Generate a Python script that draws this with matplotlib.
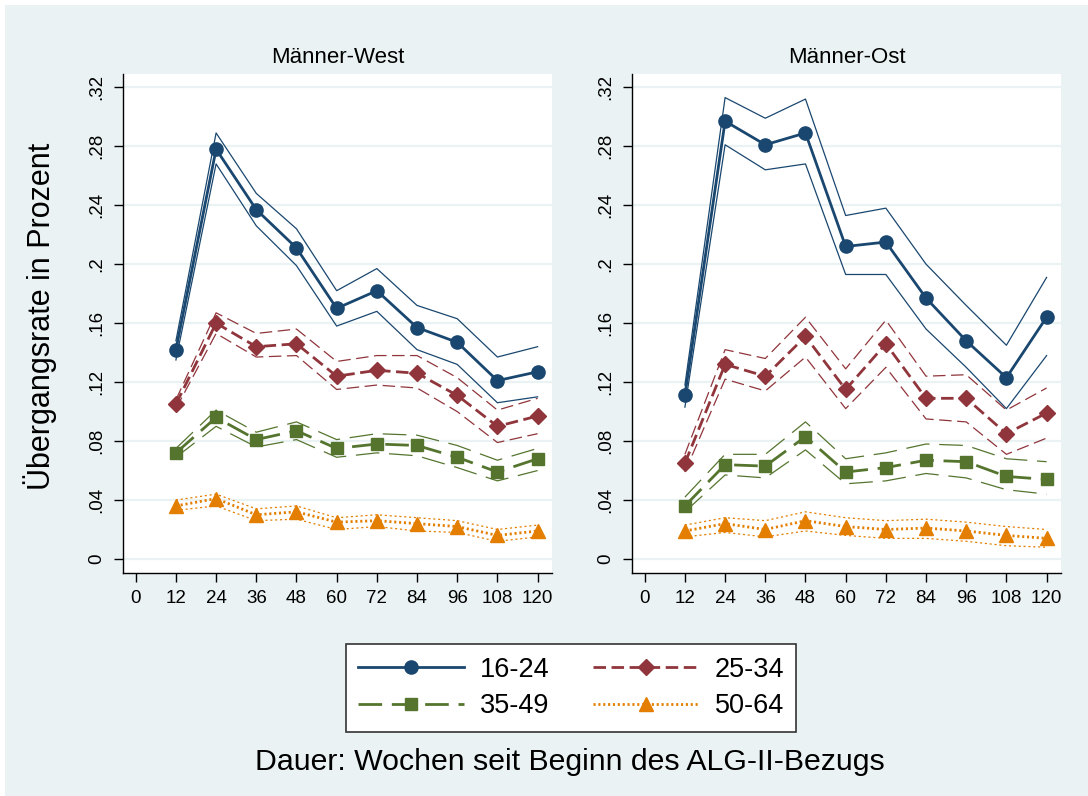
import matplotlib
matplotlib.use("Agg")
import matplotlib.pyplot as plt
from matplotlib.patches import Rectangle

plt.rcParams['font.family'] = ['Liberation Sans', 'DejaVu Sans']
plt.rcParams['lines.scale_dashes'] = False

# Wochen seit Beginn des ALG-II-Bezugs
wochen = [12, 24, 36, 48, 60, 72, 84, 96, 108, 120]
gruppen = ['16-24', '25-34', '35-49', '50-64']

# Männer-West: Schaetzer, obere und untere Grenze
west_16 = [0.142, 0.278, 0.237, 0.211, 0.170, 0.182, 0.157, 0.147, 0.121, 0.127]
west_16_hi = [0.148, 0.289, 0.248, 0.224, 0.182, 0.197, 0.172, 0.163, 0.137, 0.144]
west_16_lo = [0.135, 0.268, 0.226, 0.199, 0.158, 0.168, 0.142, 0.132, 0.106, 0.110]

west_25 = [0.105, 0.160, 0.144, 0.146, 0.124, 0.128, 0.126, 0.111, 0.090, 0.097]
west_25_hi = [0.108, 0.167, 0.153, 0.156, 0.134, 0.138, 0.138, 0.123, 0.101, 0.109]
west_25_lo = [0.102, 0.153, 0.137, 0.138, 0.115, 0.118, 0.116, 0.100, 0.079, 0.085]

west_35 = [0.072, 0.096, 0.081, 0.087, 0.075, 0.078, 0.077, 0.069, 0.059, 0.068]
west_35_hi = [0.075, 0.101, 0.086, 0.093, 0.081, 0.085, 0.084, 0.077, 0.067, 0.075]
west_35_lo = [0.069, 0.090, 0.076, 0.081, 0.069, 0.072, 0.070, 0.062, 0.053, 0.060]

west_50 = [0.036, 0.041, 0.030, 0.032, 0.025, 0.026, 0.024, 0.022, 0.016, 0.019]
west_50_hi = [0.040, 0.044, 0.034, 0.036, 0.028, 0.030, 0.028, 0.026, 0.020, 0.023]
west_50_lo = [0.033, 0.036, 0.026, 0.027, 0.020, 0.022, 0.019, 0.018, 0.012, 0.015]

# Männer-Ost
ost_16 = [0.111, 0.297, 0.281, 0.289, 0.212, 0.215, 0.177, 0.148, 0.123, 0.164]
ost_16_hi = [0.118, 0.313, 0.299, 0.312, 0.233, 0.238, 0.200, 0.172, 0.145, 0.191]
ost_16_lo = [0.103, 0.281, 0.264, 0.268, 0.193, 0.193, 0.156, 0.130, 0.102, 0.138]

ost_25 = [0.065, 0.132, 0.124, 0.151, 0.115, 0.146, 0.109, 0.109, 0.085, 0.099]
ost_25_hi = [0.071, 0.142, 0.136, 0.164, 0.129, 0.162, 0.124, 0.125, 0.101, 0.116]
ost_25_lo = [0.059, 0.122, 0.114, 0.137, 0.102, 0.130, 0.095, 0.093, 0.071, 0.082]

ost_35 = [0.036, 0.064, 0.063, 0.083, 0.059, 0.062, 0.067, 0.066, 0.056, 0.054]
ost_35_hi = [0.042, 0.071, 0.071, 0.093, 0.068, 0.072, 0.078, 0.077, 0.068, 0.066]
ost_35_lo = [0.032, 0.057, 0.055, 0.074, 0.051, 0.053, 0.058, 0.055, 0.047, 0.044]

ost_50 = [0.019, 0.024, 0.020, 0.026, 0.022, 0.020, 0.021, 0.019, 0.016, 0.014]
ost_50_hi = [0.023, 0.028, 0.026, 0.032, 0.028, 0.026, 0.027, 0.025, 0.022, 0.020]
ost_50_lo = [0.015, 0.018, 0.015, 0.019, 0.016, 0.014, 0.014, 0.012, 0.009, 0.008]

yticks = [0, 0.04, 0.08, 0.12, 0.16, 0.2, 0.24, 0.28, 0.32]
ytick_labels = ['0', '.04', '.08', '.12', '.16', '.2', '.24', '.28', '.32']
xticks = [0, 12, 24, 36, 48, 60, 72, 84, 96, 108, 120]

farben = ['#1a476f', '#90353b', '#55752f', '#e37e00']
marker = ['o', 'D', 's', '^']
msize = [9.5, 8, 8, 9.5]
striche = ['-', (0, (9, 4)), (0, (17, 7)), (0, (1.5, 2))]

bg = '#eaf2f3'

fig = plt.figure(figsize=(10.88, 7.96), dpi=100)
fig.patch.set_facecolor('white')
fig.patches.append(Rectangle((5 / 1088, 0), 1, 1 - 5 / 796, transform=fig.transFigure,
                             facecolor=bg, edgecolor='none', zorder=-10))

panels = [
    ('Männer-West', 123,
     [west_16, west_25, west_35, west_50],
     [west_16_hi, west_25_hi, west_35_hi, west_50_hi],
     [west_16_lo, west_25_lo, west_35_lo, west_50_lo]),
    ('Männer-Ost', 632,
     [ost_16, ost_25, ost_35, ost_50],
     [ost_16_hi, ost_25_hi, ost_35_hi, ost_50_hi],
     [ost_16_lo, ost_25_lo, ost_35_lo, ost_50_lo]),
]

handles = []
for titel, left_px, werte, hi, lo in panels:
    ax = fig.add_axes([left_px / 1088, 1 - 573 / 796, 429 / 1088, 499 / 796])
    ax.set_facecolor('white')
    ax.set_xlim(-3.8, 124.3)
    ax.set_ylim(-0.0095, 0.329)
    for s in ['top', 'right']:
        ax.spines[s].set_visible(False)
    for s in ['left', 'bottom']:
        ax.spines[s].set_linewidth(1.0)
    ax.set_yticks(yticks)
    ax.set_yticklabels(ytick_labels)
    ax.set_xticks(xticks)
    ax.tick_params(axis='both', length=6.5, width=1.0, labelsize=13.5, pad=6)
    ax.tick_params(axis='y', labelrotation=90)
    for lab in ax.get_yticklabels():
        lab.set_va('center')
    ax.grid(axis='y', color=bg, linewidth=1.6)
    ax.set_axisbelow(True)
    ax.set_title(titel, fontsize=16, pad=8)

    hs = []
    for i in range(4):
        ax.plot(wochen, hi[i], color=farben[i], linestyle=striche[i], linewidth=0.9, zorder=3)
        ax.plot(wochen, lo[i], color=farben[i], linestyle=striche[i], linewidth=0.9, zorder=3)
        h, = ax.plot(wochen, werte[i], color=farben[i], linestyle=striche[i], linewidth=2.0,
                     marker=marker[i], markersize=msize[i], markeredgecolor=farben[i], zorder=4)
        hs.append(h)
    handles = hs

fig.text(40 / 1088, 1 - 316 / 796, 'Übergangsrate in Prozent', rotation=90,
         fontsize=22, ha='center', va='center')

# zeilenweise Reihenfolge wie im Original
reihenfolge = [0, 2, 1, 3]
leg = fig.legend([handles[i] for i in reihenfolge], [gruppen[i] for i in reihenfolge],
                 loc='center', bbox_to_anchor=(571 / 1088, 1 - 688 / 796), ncol=2,
                 fontsize=19.5, handlelength=3.9, handletextpad=0.6, columnspacing=1.6,
                 labelspacing=0.4, numpoints=1, fancybox=False, framealpha=1,
                 edgecolor='#333333', borderpad=0.45, borderaxespad=0)
leg.get_frame().set_linewidth(1.2)

fig.text(570 / 1088, 1 - 762 / 796, 'Dauer: Wochen seit Beginn des ALG-II-Bezugs',
         fontsize=21.8, ha='center', va='center')

fig.savefig('out.png', dpi=100, facecolor=fig.get_facecolor())
